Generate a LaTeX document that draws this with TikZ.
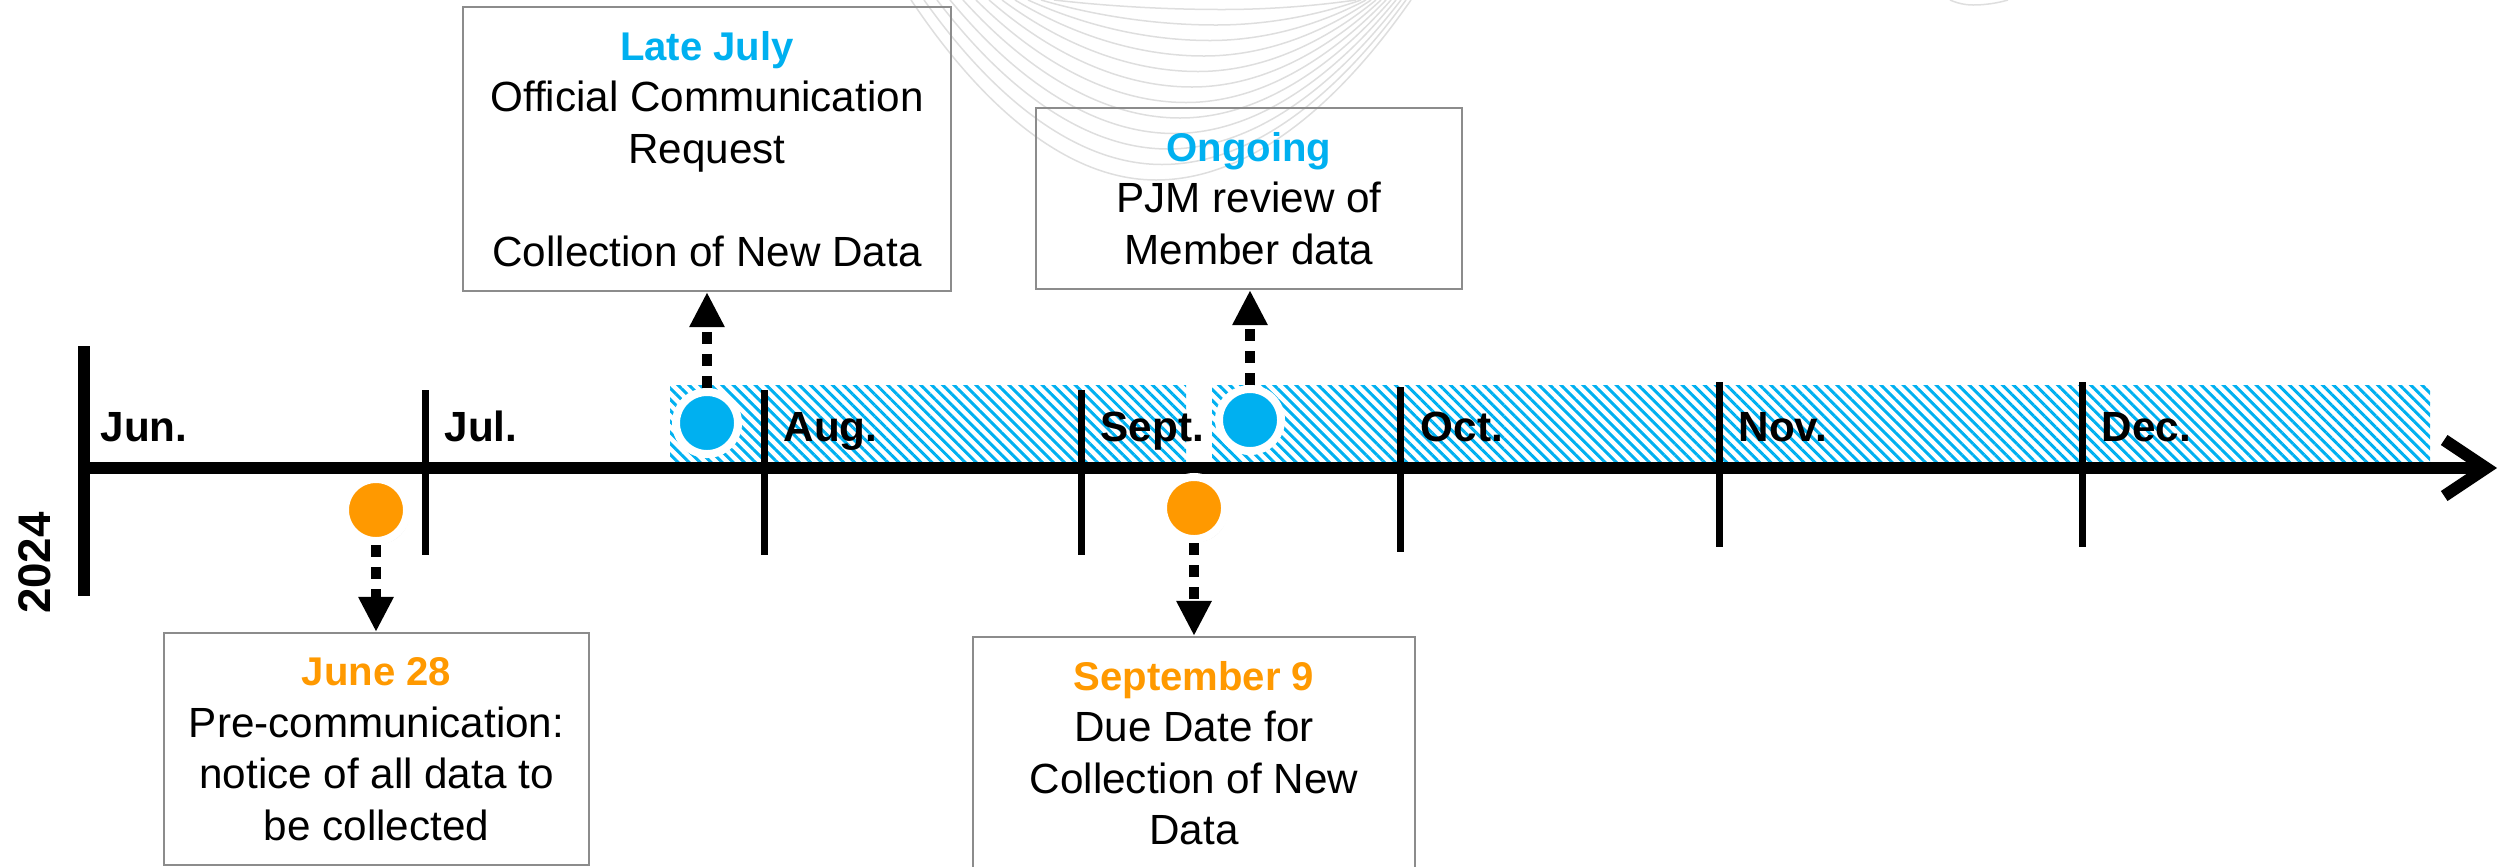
\documentclass[tikz,border=0pt]{standalone}
\usepackage{fontspec}
\setmainfont{Liberation Sans}
\usetikzlibrary{arrows.meta,patterns.meta,shadows}
\definecolor{evblue}{RGB}{0,176,240}
\definecolor{evorange}{RGB}{255,153,0}
\definecolor{boxgray}{RGB}{140,140,140}
\definecolor{wavegray}{RGB}{222,222,222}
\newcommand{\evtitle}{\fontsize{11.4}{14.65}\selectfont\bfseries}
\tikzset{
  month/.style={anchor=base west, inner sep=0pt, font=\fontsize{12}{14}\selectfont\bfseries},
  evbox/.style={draw=boxgray, line width=0.02cm, align=center, inner sep=0pt,
    font=\fontsize{12}{14.65}\selectfont},
  evdot/.style={circle, draw=white, line width=0.08cm, minimum size=0.62cm, inner sep=0pt,
    drop shadow={opacity=0.3, shadow xshift=0.025cm, shadow yshift=-0.03cm}},
  evarrow/.style={line width=0.1cm, dash pattern=on 0.12cm off 0.1cm,
    -{Triangle[length=0.35cm,width=0.33cm]}},
  hatch/.style={pattern={Lines[angle=-45,distance=0.078cm,line width=0.03cm]}, pattern color=evblue},
}
\begin{document}
\begin{tikzpicture}[x=0.01cm, y=-0.01cm]
  \useasboundingbox (0,0) rectangle (2506,866);
  % background waves
  \foreach \i in {0,...,11}
    \draw[wavegray, line width=0.015cm] (911+13*\i,0) parabola bend (1156+6*\i,180-15.5*\i) (1411-5*\i,0);
  \draw[wavegray, line width=0.015cm] (1950,0) parabola bend (1973,5) (2008,0);
  % hatched period
  \fill[hatch] (670,385) rectangle (1186,462);
  \fill[hatch] (1212,385) rectangle (2430,462);
  % boxes
  \node[evbox, minimum width=4.88cm, minimum height=2.84cm] (lateBox) at (707,149)
    {{\color{evblue}\evtitle Late July}\\ Official Communication\\ Request\\[14.65pt] Collection of New Data};
  \node[evbox, minimum width=4.26cm, minimum height=1.81cm] (ongoingBox) at (1249,198.5)
    {{\color{evblue}\evtitle Ongoing}\\ PJM review of\\ Member data};
  \node[evbox, minimum width=4.25cm, minimum height=2.32cm] (juneBox) at (376.5,749)
    {{\color{evorange}\evtitle June 28}\\ Pre-communication:\\ notice of all data to\\ be collected};
  \node[evbox, minimum width=4.42cm, minimum height=2.32cm] (septBox) at (1194,753)
    {{\color{evorange}\evtitle September 9}\\ Due Date for\\ Collection of New\\ Data};
  % axis
  \coordinate (axisStart) at (84,468); \coordinate (axisEnd) at (2497,468);
  \draw[line width=0.11cm] (84,346) -- (84,596);
  \draw[line width=0.12cm, -{Straight Barb[length=0.42cm,width=0.56cm]}] (axisStart) -- (axisEnd);
  \node[rotate=90, font=\fontsize{13}{15}\selectfont\bfseries] (year) at (35,563) {2024};
  % months
  \draw[line width=0.07cm] (425,390) -- (425,555);   \draw[line width=0.07cm] (764,390) -- (764,555);
  \draw[line width=0.07cm] (1081,390) -- (1081,555); \draw[line width=0.07cm] (1400,387) -- (1400,552);
  \draw[line width=0.07cm] (1719,382) -- (1719,547); \draw[line width=0.07cm] (2082,382) -- (2082,547);
  \node[month] (jun) at (100,441) {Jun.};   \node[month] (jul) at (444,441) {Jul.};
  \node[month] (aug) at (783,441) {Aug.};   \node[month] (sep) at (1100,441) {Sept.};
  \node[month] (oct) at (1420,441) {Oct.};  \node[month] (nov) at (1738,441) {Nov.};
  \node[month] (dec) at (2101,441) {Dec.};
  % events
  \node[evdot, fill=evorange] (dotJune) at (376,510) {};
  \node[evdot, fill=evblue] (dotLate) at (707,423) {};
  \node[evdot, fill=evorange] (dotSept) at (1194,508) {};
  \node[evdot, fill=evblue] (dotOngoing) at (1250,420) {};
  \draw[evarrow] (dotJune) -- (dotJune |- juneBox.north);
  \draw[evarrow] (dotLate) -- (dotLate |- lateBox.south);
  \draw[evarrow] (dotSept) -- (dotSept |- septBox.north);
  \draw[evarrow] (dotOngoing) -- (dotOngoing |- ongoingBox.south);
\end{tikzpicture}
\end{document}
